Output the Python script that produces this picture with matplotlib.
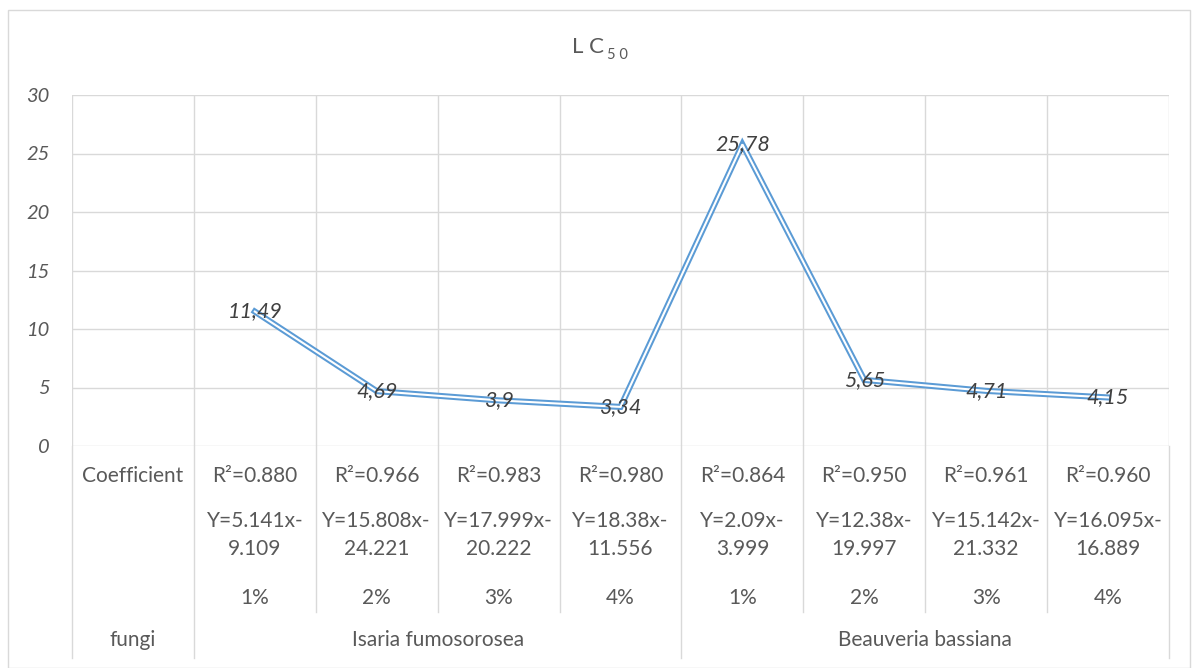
import matplotlib
matplotlib.use("Agg")
from matplotlib import pyplot as plt
from matplotlib.patches import Rectangle
from matplotlib.transforms import blended_transform_factory

concentrations = ["1%", "2%", "3%", "4%", "1%", "2%", "3%", "4%"]
lc50 = [11.49, 4.69, 3.9, 3.34, 25.78, 5.65, 4.71, 4.15]
r_squared = ["0.880", "0.966", "0.983", "0.980", "0.864", "0.950", "0.961", "0.960"]
slopes = ["5.141", "15.808", "17.999", "18.38", "2.09", "12.38", "15.142", "16.095"]
intercepts = ["9.109", "24.221", "20.222", "11.556", "3.999", "19.997", "21.332", "16.889"]
fungi = ["Isaria fumosorosea", "Beauveria bassiana"]
y_ticks = [0, 5, 10, 15, 20, 25, 30]

W, H = 1194, 668
FONT = "Lato"
GRID = "#D9D9D9"
TXT = "#595959"
LINE = "#5B9BD5"

plt.rcParams["font.family"] = [FONT, "DejaVu Sans"]

fig = plt.figure(figsize=(W / 100, H / 100), dpi=100)


def fy(py):
    # pixel row from the top -> figure fraction
    return 1 - py / H


left, right, top, bottom = 72, 1169, 95, 446
ax = fig.add_axes([left / W, fy(bottom), (right - left) / W, (bottom - top) / H])
ax.set_xlim(-1.5, 7.5)
ax.set_ylim(0, 30)
for s in ax.spines.values():
    s.set_visible(False)
ax.set_xticks([])
ax.set_yticks(y_ticks)
ax.set_yticklabels([str(t) for t in y_ticks], fontsize=14.5, style="italic", color=TXT)
ax.tick_params(axis="y", length=0, pad=16)

# gridlines
for t in y_ticks:
    ax.axhline(t, color=GRID, lw=1, zorder=0)
for k in range(10):
    ax.axvline(-1.5 + k, color=GRID, lw=1, zorder=0)

xs = list(range(len(lc50)))
ax.plot(xs, lc50, color=LINE, lw=4.4, solid_joinstyle="miter", zorder=2)
ax.plot(xs, lc50, color="white", lw=1.5, solid_joinstyle="miter", zorder=3)
for x, v in zip(xs, lc50):
    ax.text(x, v, f"{v:g}".replace(".", ","), ha="center", va="center",
            fontsize=15.5, style="italic", color="#404040", zorder=4)

# data table below the plot
tr = blended_transform_factory(ax.transData, fig.transFigure)
for k in range(10):
    xv = -1.5 + k
    low = 658 if k in (0, 1, 5, 9) else 612
    fig.add_artist(plt.Line2D([xv, xv], [fy(446), fy(low)], transform=tr,
                              color=GRID, lw=1))

fs = 15
fig.text(133 / W, fy(476), "Coefficient", ha="center", va="center", fontsize=fs, color=TXT)
fig.text(133 / W, fy(640), "fungi", ha="center", va="center", fontsize=fs, color=TXT)
for x in xs:
    ax.text(x, fy(476), f"R²={r_squared[x]}", transform=tr, ha="center", va="center",
            fontsize=fs, color=TXT)
    ax.text(x, fy(521), f"Y={slopes[x]}x-", transform=tr, ha="center", va="center",
            fontsize=fs, color=TXT)
    ax.text(x, fy(549), intercepts[x], transform=tr, ha="center", va="center",
            fontsize=fs, color=TXT)
    ax.text(x, fy(598), concentrations[x], transform=tr, ha="center", va="center",
            fontsize=fs, color=TXT)
for i, name in enumerate(fungi):
    ax.text(1.5 + 4 * i, fy(640), name, transform=tr, ha="center", va="center",
            fontsize=fs, color=TXT)

# title with subscript
fig.text(604 / W, fy(47), "L C", ha="right", va="center", fontsize=16, color=TXT)
fig.text(607 / W, fy(55), "5 0", ha="left", va="center", fontsize=10.5, color=TXT)

# chart frame
fig.add_artist(Rectangle((8 / W, 0), (W - 12) / W, fy(10), transform=fig.transFigure,
                         fill=False, edgecolor=GRID, lw=1))

fig.savefig("out.png", dpi=100)
